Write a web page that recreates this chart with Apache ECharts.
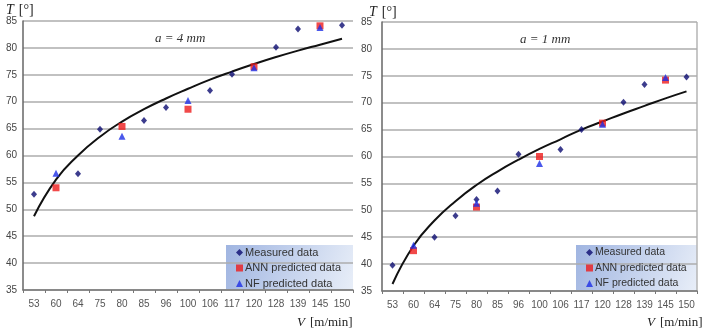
<!DOCTYPE html>
<html>
<head>
<meta charset="utf-8">
<script src="https://cdn.jsdelivr.net/npm/echarts@6/dist/echarts.min.js"></script>
<style>
  html, body { margin: 0; padding: 0; background: #fff; }
  #main { width: 702px; height: 336px; }
</style>
</head>
<body>
<div id="main"></div>
<script>
// V [m/min] categories, shared by both panels
const speeds = ['53', '60', '64', '75', '80', '85', '96', '100', '106', '117', '120', '128', '139', '145', '150'];

// a = 4 mm
const measured4 = [52.8, null, 56.6, 64.9, null, 66.5, 68.9, null, 72.1, 75.1, null, 80.1, 83.5, null, 84.2];
const ann4 = [null, 54.0, null, null, 65.4, null, null, 68.6, null, null, 76.5, null, null, 84.1, null];
const nf4 = [null, 56.7, null, null, 63.6, null, null, 70.2, null, null, 76.3, null, null, 83.8, null];
const trend4 = [48.7, 55.5, 60.0, 63.5, 66.3, 68.6, 70.6, 72.4, 74.1, 75.6, 77.0, 78.3, 79.5, 80.6, 81.7];

// a = 1 mm
const measured1 = [39.8, null, 45.0, 49.0, 52.0, 53.6, 60.4, null, 61.3, 65.0, null, 70.1, 73.4, null, 74.8];
const ann1 = [null, 42.5, null, null, 50.6, null, null, 60.0, null, null, 66.2, null, null, 74.2, null];
const nf1 = [null, 43.5, null, null, 51.3, null, null, 58.7, null, null, 66.0, null, null, 74.7, null];
const trend1 = [36.3, 43.4, 48.1, 51.7, 54.7, 57.2, 59.4, 61.4, 63.2, 65.0, 66.5, 68.0, 69.4, 70.8, 72.1];

const pairs = arr => arr.map((v, i) => [speeds[i], v]).filter(p => p[1] != null);

const NAVY = '#0b0b70', RED = '#ee1c1c', BLUE = '#1d2ee6';

const xAxisFor = (idx, labelSize) => ({
  type: 'category', gridIndex: idx, data: speeds, boundaryGap: true,
  axisLine: { lineStyle: { color: '#777', width: 1.5 } },
  axisTick: { show: true, length: 3, lineStyle: { color: '#777' } },
  axisLabel: { color: '#555', fontSize: labelSize, fontFamily: 'Arial', margin: 9, interval: 0 }
});

const yAxisFor = (idx, margin) => ({
  type: 'value', gridIndex: idx, min: 35, max: 85, interval: 5,
  axisLine: { show: true, lineStyle: { color: '#666', width: 1.5 } },
  axisTick: { show: false },
  splitLine: { lineStyle: { color: '#adadad', width: 1.5 } },
  axisLabel: { color: '#444', fontSize: 10, fontFamily: 'Arial', margin: margin }
});

const panelSeries = (idx, meas, ann, nf, trend) => [
  {
    name: 'trend', type: 'line', xAxisIndex: idx, yAxisIndex: idx,
    data: trend, smooth: 0.5, showSymbol: false, symbol: 'none',
    lineStyle: { color: '#111', width: 2 }, z: 1, silent: true
  },
  {
    name: 'Measured data', type: 'scatter', xAxisIndex: idx, yAxisIndex: idx,
    data: pairs(meas), symbol: 'diamond', symbolSize: [6, 7],
    itemStyle: { color: NAVY }, z: 3
  },
  {
    name: 'ANN predicted data', type: 'scatter', xAxisIndex: idx, yAxisIndex: idx,
    data: pairs(ann), symbol: 'rect', symbolSize: 7,
    itemStyle: { color: RED }, z: 4
  },
  {
    name: 'NF predicted data', type: 'scatter', xAxisIndex: idx, yAxisIndex: idx,
    data: pairs(nf), symbol: 'triangle', symbolSize: 7,
    itemStyle: { color: BLUE }, z: 5
  }
];

const legendFor = (left, size) => ({
  orient: 'vertical', left: left, top: 247, padding: 0,
  itemWidth: 7, itemHeight: 7, itemGap: 4.5,
  textStyle: { color: '#333', fontSize: size, lineHeight: 11, fontFamily: 'Arial', padding: [0, 0, 0, -3] },
  data: [
    { name: 'Measured data', icon: 'diamond' },
    { name: 'ANN predicted data', icon: 'rect' },
    { name: 'NF predicted data', icon: 'triangle' }
  ]
});

const legendFill = {
  type: 'linear', x: 0, y: 0, x2: 1, y2: 1,
  colorStops: [{ offset: 0, color: '#a0b5e1' }, { offset: 1, color: '#e8eef8' }]
};

const serif = 'Liberation Serif';
const rich = {
  it: { fontFamily: serif, fontStyle: 'italic', fontWeight: 'normal', fontSize: 14, color: '#222' },
  n: { fontFamily: serif, fontWeight: 'normal', fontSize: 14, color: '#222' }
};
const richSm = {
  it: { fontFamily: serif, fontStyle: 'italic', fontWeight: 'normal', fontSize: 13, color: '#222' },
  n: { fontFamily: serif, fontWeight: 'normal', fontSize: 13, color: '#222' }
};
const noteStyle = { fontFamily: serif, fontStyle: 'italic', fontWeight: 'normal', fontSize: 13, color: '#333' };

const chart = echarts.init(document.getElementById('main'), null, { renderer: 'canvas' });

chart.setOption({
  animation: false,
  backgroundColor: '#fff',
  grid: [
    { left: 23, top: 21, width: 330, height: 269 },
    { left: 382, top: 22, width: 315, height: 269 }
  ],
  xAxis: [xAxisFor(0, 10), xAxisFor(1, 10)],
  yAxis: [yAxisFor(0, 6), yAxisFor(1, 10)],
  legend: [legendFor(236, 11), legendFor(586, 10.5)],
  title: [
    { text: '{it|T} {n|[°]}', left: 1, top: -4, textStyle: { fontWeight: 'normal', rich } },
    { text: '{it|T} {n|[°]}', left: 364, top: -2, textStyle: { fontWeight: 'normal', rich } },
    { text: '{it|V} {n|[m/min]}', left: 297, top: 314, padding: 0, textStyle: { fontWeight: 'normal', rich: richSm } },
    { text: '{it|V} {n|[m/min]}', left: 647, top: 314, padding: 0, textStyle: { fontWeight: 'normal', rich: richSm } },
    { text: 'a = 4 mm', left: 150, top: 27, textStyle: noteStyle },
    { text: 'a = 1 mm', left: 515, top: 28, textStyle: noteStyle }
  ],
  graphic: [
    { type: 'rect', left: 226, top: 245, shape: { width: 127, height: 44 }, style: { fill: legendFill }, z: 0 },
    { type: 'rect', left: 576, top: 245, shape: { width: 121, height: 45 }, style: { fill: legendFill }, z: 0 },
    { type: 'line', shape: { x1: 697, y1: 22, x2: 697, y2: 291 }, style: { stroke: '#b5b5b5', lineWidth: 1.5 }, z: 0 }
  ],
  series: [
    ...panelSeries(0, measured4, ann4, nf4, trend4),
    ...panelSeries(1, measured1, ann1, nf1, trend1)
  ]
});
</script>
</body>
</html>
